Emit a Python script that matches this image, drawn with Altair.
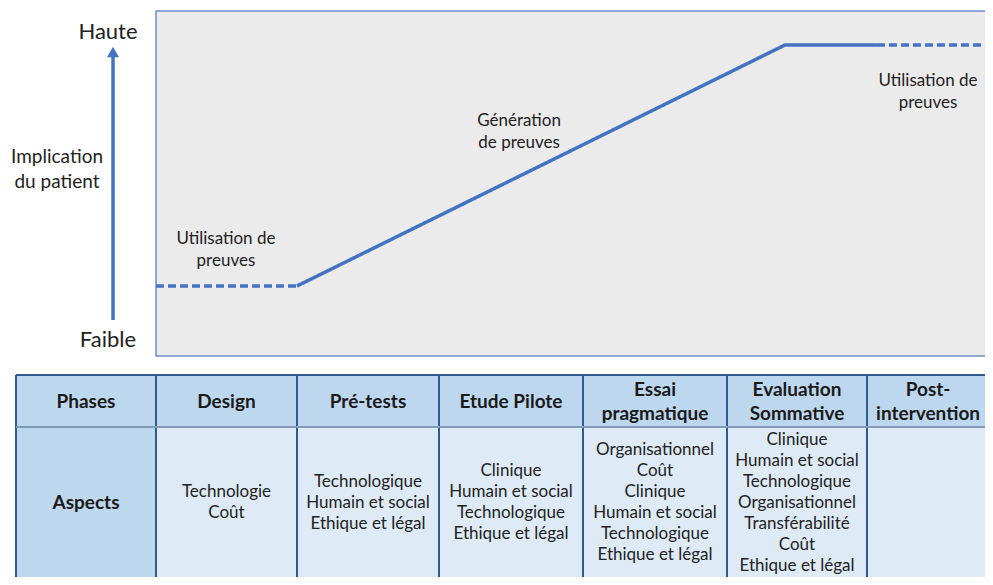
import altair as alt
import pandas as pd

# ---------------- data ----------------
phases = ["Phases", "Design", "Pré-tests", "Etude Pilote", "Essai\npragmatique",
          "Evaluation\nSommative", "Post-\nintervention"]
aspects = [
    "Aspects",
    "Technologie\nCoût",
    "Technologique\nHumain et social\nEthique et légal",
    "Clinique\nHumain et social\nTechnologique\nEthique et légal",
    "Organisationnel\nCoût\nClinique\nHumain et social\nTechnologique\nEthique et légal",
    "Clinique\nHumain et social\nTechnologique\nOrganisationnel\nTransférabilité\nCoût\nEthique et légal",
    "",
]

# patient implication curve: position in phase-column units, level (0 = Faible, 1 = Haute)
curve_pos = [1.0, 2.0, 2.0, 5.414, 6.07, 6.07, 6.95]
curve_level = [0, 0, 0, 1, 1, 1, 1]
curve_seg = ["a", "a", "b", "b", "b", "c", "c"]
curve_style = ["dashed", "dashed", "solid", "solid", "solid", "dashed", "dashed"]

labels = ["Utilisation de\npreuves", "Génération\nde preuves", "Utilisation de\npreuves"]
label_pos = [1.496, 3.556, 6.43]
label_level = [0.149, 0.641, 0.807]

level_names = ["Haute", "Faible"]
level_vals = [1.054, -0.224]

# ---------------- layout ----------------
W, H = 977, 569
PX_PER_LEVEL = 241.0
col_edges_px = [8, 148, 289, 431, 575, 719, 859, 1001]  # table column borders (chart px)
xscale = alt.Scale(domain=list(range(len(col_edges_px))), range=col_edges_px, nice=False, zero=False)
yscale = alt.Scale(domain=[(278 - H) / PX_PER_LEVEL, 278 / PX_PER_LEVEL], nice=False, zero=False)
FONT = "Lato"
TXT = "#222222"
BLUE = "#4472c4"


def X(f="x"):
    return alt.X(f"{f}:Q", scale=xscale, axis=None)


def Y(f="y"):
    return alt.Y(f"{f}:Q", scale=yscale, axis=None)


def explode(xs, ys, texts, lh_px):
    """one row per text line, block centred on (x, y)"""
    rows = []
    lh = lh_px / PX_PER_LEVEL
    for x, y, t in zip(xs, ys, texts):
        lines = t.split("\n")
        n = len(lines)
        for k, line in enumerate(lines):
            rows.append({"x": x, "y": y + ((n - 1) / 2 - k) * lh, "t": line})
    return pd.DataFrame(rows)


def text_layer(df, size, bold=False, color=TXT):
    kw = dict(font=FONT, fontSize=size, color=color, baseline="middle", align="center", clip=True)
    if bold:
        kw["fontWeight"] = "bold"
    return alt.Chart(df).mark_text(**kw).encode(x=X(), y=Y(), text="t:N")


HDR_TOP, HDR_BOT, BODY_BOT = -0.369, -0.585, -1.30
ncol = len(phases)

# grey panel
panel = alt.Chart(pd.DataFrame({"x": [1.0], "x2": [7.0], "y": [-0.2905], "y2": [1.141]})).mark_rect(
    fill="#ebebeb", stroke="#6d8ccc", strokeWidth=1.5, clip=True
).encode(x=X(), x2="x2", y=Y(), y2="y2")

# curve
curve_df = pd.DataFrame({"x": curve_pos, "y": curve_level, "seg": curve_seg,
                         "style": curve_style, "o": list(range(len(curve_pos)))})
curve = alt.Chart(curve_df).mark_line(color=BLUE, strokeWidth=3.5, clip=True).encode(
    x=X(), y=Y(), detail="seg:N", order="o:Q",
    strokeDash=alt.StrokeDash("style:N", scale=alt.Scale(domain=["solid", "dashed"],
                                                         range=[[1, 0], [8, 4]]), legend=None),
)

curve_labels = text_layer(explode(label_pos, label_level, labels, 22), 17)

# vertical arrow (implication axis)
arrow_shaft = alt.Chart(pd.DataFrame({"x": [0.693], "y": [-0.141], "y2": [0.950]})).mark_rule(
    color=BLUE, strokeWidth=3.5
).encode(x=X(), y=Y(), y2="y2")
arrow_head = alt.Chart(pd.DataFrame({"x": [0.693], "y": [0.971]})).mark_point(
    shape="triangle-up", size=144, filled=True, color=BLUE, opacity=1
).encode(x=X(), y=Y())

level_text = text_layer(pd.DataFrame({"x": [0.657, 0.657], "y": level_vals, "t": level_names}), 22)
axis_title = text_layer(explode([0.293], [0.483], ["Implication\ndu patient"], 25), 19)

# table cells
cells = []
for i in range(ncol):
    cells.append({"x": i, "x2": i + 1, "y": HDR_BOT, "y2": HDR_TOP, "c": "#bdd7ee"})
    cells.append({"x": i, "x2": i + 1, "y": BODY_BOT, "y2": HDR_BOT,
                  "c": "#bdd7ee" if i == 0 else "#deebf7"})
cells_layer = alt.Chart(pd.DataFrame(cells)).mark_rect(clip=True).encode(
    x=X(), x2="x2", y=Y(), y2="y2", color=alt.Color("c:N", scale=None)
)

vlines = alt.Chart(pd.DataFrame({"x": list(range(ncol)), "y": [HDR_TOP] * ncol,
                                 "y2": [BODY_BOT] * ncol})).mark_rule(
    color="#2e5b8c", strokeWidth=2, clip=True
).encode(x=X(), y=Y(), y2="y2")
hlines = alt.Chart(pd.DataFrame({"x": [0, 0], "x2": [7, 7], "y": [HDR_TOP, HDR_BOT],
                                 "c": ["#2e5b8c", "#8298b3"]})).mark_rule(strokeWidth=2, clip=True).encode(
    x=X(), x2="x2", y=Y(), color=alt.Color("c:N", scale=None)
)

centers = [i + 0.5 for i in range(ncol)]
hdr_centers = centers[:-1] + [6.43]  # last header nudged left so it stays inside the frame
hdr_text = text_layer(explode(hdr_centers, [-0.481] * ncol, phases, 24), 19, bold=True, color="#1a1a1a")
body_text = text_layer(explode(centers[1:], [-0.9004] * (ncol - 1), aspects[1:], 21), 17)
aspects_text = text_layer(explode(centers[:1], [-0.9004], aspects[:1], 21), 19, bold=True, color="#1a1a1a")

chart = alt.layer(
    panel, curve, curve_labels, arrow_shaft, arrow_head, level_text, axis_title,
    cells_layer, vlines, hlines, hdr_text, body_text, aspects_text,
).properties(
    width=W, height=H, padding=0, autosize="none", background="white"
).configure_view(stroke=None)

chart.save("out.html", embed_options={"renderer": "svg", "actions": False})
